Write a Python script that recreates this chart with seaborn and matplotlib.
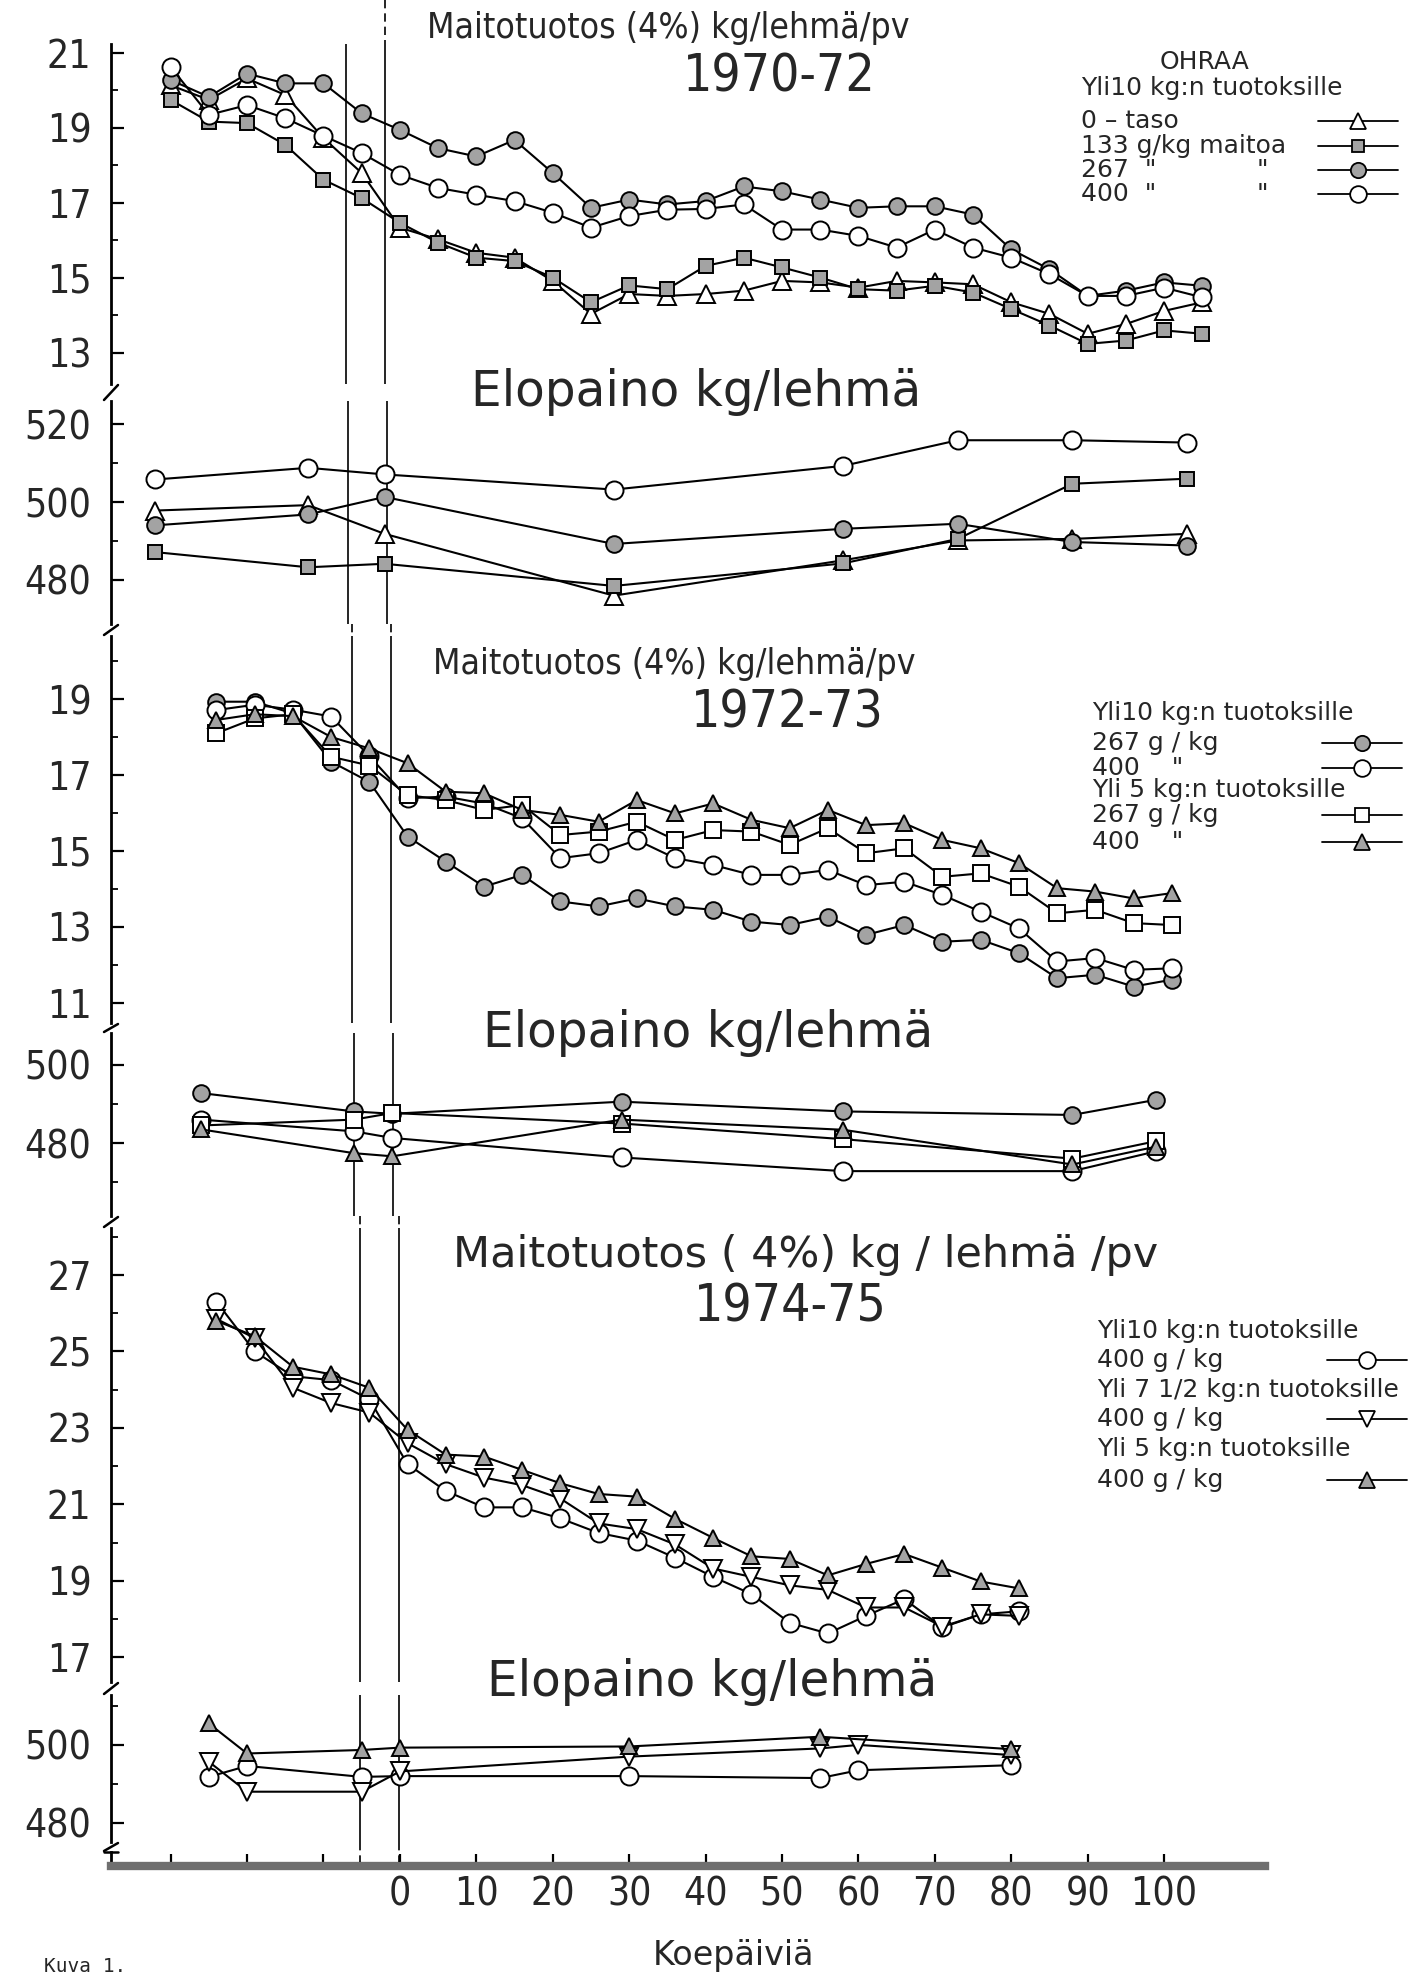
import matplotlib
matplotlib.use("Agg")
import matplotlib.pyplot as plt
import seaborn as sns
from matplotlib.lines import Line2D

# ---------------- data ----------------
days_7072 = [-30, -25, -20, -15, -10, -5, 0, 5, 10, 15, 20, 25, 30, 35, 40, 45, 50, 55,
             60, 65, 70, 75, 80, 85, 90, 95, 100, 105]
milk7072_0 = [20.14, 19.75, 20.32, 19.88, 18.73, 17.80, 16.34, 16.03, 15.67, 15.54, 14.92, 14.04,
              14.57, 14.52, 14.57, 14.66, 14.92, 14.88, 14.74, 14.92, 14.88, 14.83, 14.35, 14.04,
              13.51, 13.77, 14.12, 14.35]
milk7072_133 = [19.75, 19.17, 19.13, 18.55, 17.62, 17.13, 16.47, 15.94, 15.54, 15.45, 15.01, 14.35,
                14.80, 14.70, 15.32, 15.54, 15.28, 15.01, 14.70, 14.66, 14.79, 14.61, 14.17, 13.73,
                13.24, 13.33, 13.60, 13.51]
milk7072_267 = [20.28, 19.83, 20.45, 20.19, 20.19, 19.39, 18.95, 18.46, 18.24, 18.68, 17.80, 16.87,
                17.09, 16.96, 17.05, 17.44, 17.31, 17.09, 16.87, 16.91, 16.91, 16.69, 15.76, 15.23,
                14.52, 14.66, 14.88, 14.79]
milk7072_400 = [20.63, 19.35, 19.61, 19.26, 18.79, 18.33, 17.75, 17.40, 17.22, 17.05, 16.74, 16.34,
                16.65, 16.82, 16.84, 16.96, 16.29, 16.29, 16.12, 15.81, 16.29, 15.81, 15.54, 15.10,
                14.52, 14.52, 14.74, 14.48]

wdays_7072 = [-32, -12, -2, 28, 58, 73, 88, 103]
wt7072_0 = [497.8, 499.2, 491.8, 475.9, 485.0, 490.1, 490.5, 491.8]
wt7072_133 = [487.1, 483.2, 484.1, 478.4, 484.2, 490.5, 504.7, 506.0]
wt7072_267 = [494.0, 496.8, 501.3, 489.2, 493.1, 494.4, 489.7, 488.8]
wt7072_400 = [505.8, 508.8, 507.1, 503.2, 509.3, 515.9, 515.9, 515.3]

days_7273 = [-24, -19, -14, -9, -4, 1, 6, 11, 16, 21, 26, 31, 36, 41, 46, 51, 56, 61, 66, 71,
             76, 81, 86, 91, 96, 101]
milk7273_10_267 = [18.93, 18.93, 18.62, 17.35, 16.82, 15.38, 14.72, 14.06, 14.37, 13.67, 13.54, 13.75,
                   13.54, 13.45, 13.14, 13.05, 13.27, 12.79, 13.05, 12.61, 12.66, 12.31, 11.65, 11.74,
                   11.43, 11.61]
milk7273_10_400 = [18.71, 18.85, 18.72, 18.54, 17.50, 16.39, 16.43, 16.25, 15.86, 14.81, 14.94, 15.29,
                   14.81, 14.63, 14.37, 14.37, 14.50, 14.10, 14.19, 13.84, 13.40, 12.96, 12.09, 12.18,
                   11.87, 11.91]
milk7273_5_267 = [18.10, 18.49, 18.60, 17.48, 17.25, 16.47, 16.34, 16.08, 16.21, 15.42, 15.51, 15.77,
                  15.29, 15.55, 15.51, 15.16, 15.60, 14.94, 15.07, 14.32, 14.41, 14.06, 13.36, 13.45,
                  13.10, 13.05]
milk7273_5_400 = [18.45, 18.60, 18.55, 18.00, 17.70, 17.31, 16.56, 16.52, 16.08, 15.95, 15.77, 16.34,
                  15.99, 16.25, 15.82, 15.60, 16.08, 15.68, 15.73, 15.29, 15.07, 14.68, 14.02, 13.93,
                  13.75, 13.89]

wdays_7273 = [-26, -6, -1, 29, 58, 88, 99]
wt7273_10_267 = [492.8, 488.1, 487.5, 490.6, 488.1, 487.2, 491.1]
wt7273_10_400 = [486.0, 483.0, 481.3, 476.3, 472.8, 472.8, 477.9]
wt7273_5_267 = [484.5, 486.0, 487.7, 485.0, 481.0, 476.0, 480.5]
wt7273_5_400 = [483.5, 477.4, 476.6, 486.0, 483.4, 474.5, 479.1]

days_7475 = [-24, -19, -14, -9, -4, 1, 6, 11, 16, 21, 26, 31, 36, 41, 46, 51, 56, 61, 66, 71, 76, 81]
milk7475_10 = [26.30, 25.00, 24.35, 24.25, 23.75, 22.05, 21.35, 20.92, 20.92, 20.63, 20.25, 20.05,
               19.60, 19.10, 18.65, 17.90, 17.62, 18.08, 18.52, 17.78, 18.12, 18.20]
milk7475_75 = [25.85, 25.35, 24.05, 23.65, 23.40, 22.60, 22.05, 21.70, 21.50, 21.15, 20.50, 20.35,
               19.95, 19.32, 19.10, 18.88, 18.76, 18.30, 18.30, 17.80, 18.12, 18.08]
milk7475_5 = [25.80, 25.40, 24.60, 24.40, 24.05, 22.95, 22.30, 22.25, 21.90, 21.55, 21.27, 21.20,
              20.62, 20.12, 19.64, 19.57, 19.14, 19.44, 19.70, 19.34, 18.98, 18.80]

wdays_7475 = [-25, -20, -5, 0, 30, 55, 60, 80]
wt7475_10 = [491.8, 494.6, 491.8, 492.0, 492.0, 491.5, 493.5, 494.8]
wt7475_75 = [495.7, 488.0, 488.0, 493.2, 497.0, 499.1, 500.0, 497.4]
wdays_7475_5 = [-25, -20, -5, 0, 30, 55, 80]
wt7475_5 = [505.5, 497.8, 498.7, 499.3, 499.6, 502.1, 498.9]

xtick_values = [-30, -20, -10, 0, 10, 20, 30, 40, 50, 60, 70, 80, 90, 100]

# ---------------- style ----------------
sns.set_style("white")
plt.rcParams["font.family"] = ["DejaVu Sans"]

W, H = 1415, 1975
fig = plt.figure(figsize=(W / 100, H / 100), dpi=100)
LEFT, RIGHT = 111, 1265
XMIN, XMAX = -37.8, 113.2
GRAY = "#a3a3a3"


def rect(top, bottom):
    return [LEFT / W, 1 - bottom / H, (RIGHT - LEFT) / W, (bottom - top) / H]


def setup(ax, ylim, major, minor):
    ax.set_xlim(XMIN, XMAX)
    ax.set_ylim(*ylim)
    for s in ["top", "right", "bottom"]:
        ax.spines[s].set_visible(False)
    ax.spines["left"].set_linewidth(2.0)
    ax.spines["left"].set_color("black")
    ax.set_yticks(major)
    ax.set_yticks(minor, minor=True)
    ax.set_yticklabels([str(v) for v in major], fontstretch="condensed")
    ax.tick_params(axis="y", which="both", left=True, color="black")
    ax.tick_params(axis="y", which="major", direction="in", length=9, width=1.6,
                   pad=14, labelsize=28)
    ax.tick_params(axis="y", which="minor", direction="in", length=5, width=1.3)
    ax.tick_params(axis="x", bottom=False, labelbottom=False)
    ax.patch.set_alpha(0)
    ax.set_xlabel("")
    ax.set_ylabel("")


def series(ax, x, y, marker, fill, ms):
    sns.lineplot(x=x, y=y, ax=ax, color="black", linewidth=1.5, marker=marker,
                 markersize=ms, markerfacecolor=fill, markeredgecolor="black",
                 markeredgewidth=1.4, legend=False, errorbar=None, estimator=None)


panels = [
    (44, 384, (12.17, 21.24), [13, 15, 17, 19, 21], [14, 16, 18, 20], (-7.1, -2.0)),
    (401, 624, (468.6, 526.0), [480, 500, 520], [490, 510], (-6.8, -1.7)),
    (636, 1023, (10.47, 20.66), [11, 13, 15, 17, 19], [12, 14, 16, 18, 20], (-6.3, -1.2)),
    (1033, 1216, (461.3, 508.2), [480, 500], [470, 490], (-6.0, -0.9)),
    (1228, 1682, (16.35, 28.23), [17, 19, 21, 23, 25, 27], [18, 20, 22, 24, 26, 28], (-5.2, -0.1)),
    (1695, 1842, (475.1, 512.8), [480, 500], [490, 510], (-5.2, -0.1)),
]
axes = []
for top, bot, ylim, major, minor, vl in panels:
    ax = fig.add_axes(rect(top, bot))
    setup(ax, ylim, major, minor)
    for v in vl:
        ax.axvline(v, color="black", lw=1.2, zorder=1)
    axes.append(ax)

a1, a2, a3, a4, a5, a6 = axes
MC, MT, MS = 13, 13, 10

# panel 1: milk 1970-72
series(a1, days_7072, milk7072_0, "^", "white", MT)
series(a1, days_7072, milk7072_133, "s", GRAY, MS)
series(a1, days_7072, milk7072_267, "o", GRAY, 12)
series(a1, days_7072, milk7072_400, "o", "white", MC)
# panel 2: weight 1970-72
series(a2, wdays_7072, wt7072_0, "^", "white", MT)
series(a2, wdays_7072, wt7072_133, "s", GRAY, MS)
series(a2, wdays_7072, wt7072_267, "o", GRAY, 12)
series(a2, wdays_7072, wt7072_400, "o", "white", MC)
# panel 3: milk 1972-73
series(a3, days_7273, milk7273_10_267, "o", GRAY, 12)
series(a3, days_7273, milk7273_10_400, "o", "white", MC)
series(a3, days_7273, milk7273_5_267, "s", "white", 11)
series(a3, days_7273, milk7273_5_400, "^", GRAY, 12)
# panel 4: weight 1972-73
series(a4, wdays_7273, wt7273_10_267, "o", GRAY, 12)
series(a4, wdays_7273, wt7273_10_400, "o", "white", MC)
series(a4, wdays_7273, wt7273_5_267, "s", "white", 11)
series(a4, wdays_7273, wt7273_5_400, "^", GRAY, 12)
# panel 5: milk 1974-75
series(a5, days_7475, milk7475_10, "o", "white", MC)
series(a5, days_7475, milk7475_75, "v", "white", MT)
series(a5, days_7475, milk7475_5, "^", GRAY, 12)
# panel 6: weight 1974-75
series(a6, wdays_7475, wt7475_10, "o", "white", MC)
series(a6, wdays_7475, wt7475_75, "v", "white", MT)
series(a6, wdays_7475_5, wt7475_5, "^", GRAY, 12)

# x axis
axx = fig.add_axes(rect(1852, 1866))
axx.set_xlim(XMIN, XMAX)
axx.set_ylim(0, 1)
for s in ["top", "right"]:
    axx.spines[s].set_visible(False)
axx.spines["bottom"].set_linewidth(6)
axx.spines["bottom"].set_color("#6f6f6f")
axx.spines["left"].set_linewidth(2.0)
axx.spines["left"].set_color("black")
axx.set_yticks([])
axx.set_xticks(xtick_values)
axx.set_xticklabels([str(v) if v >= 0 else "" for v in xtick_values], fontstretch="condensed")
axx.tick_params(axis="x", bottom=True, direction="in", length=9, width=1.6,
                color="black", labelsize=28, pad=7)
axx.patch.set_alpha(0)

# continuation of the two vertical lines in the gaps
trf = fig.transFigure.inverted()


def fig_x(ax, d):
    return trf.transform(ax.transData.transform((d, ax.get_ylim()[0])))[0]


gap_segments = [(0, 0, 44, [1]), (2, 624, 636, [0, 1]), (4, 1216, 1228, [0, 1]),
                (5, 1842, 1862, [0, 1])]
for lower_idx, y0, y1, which in gap_segments:
    for k in which:
        xf = fig_x(axes[lower_idx], panels[lower_idx][5][k])
        fig.add_artist(Line2D([xf, xf], [1 - y0 / H, 1 - y1 / H], color="black",
                              lw=1.2, ls=(0, (5, 3))))

# axis break marks
for y_up, y_lo in [(384, 401), (624, 636), (1023, 1033), (1216, 1228), (1682, 1695), (1842, 1852)]:
    fig.add_artist(Line2D([(LEFT - 7) / W, (LEFT + 7) / W],
                          [1 - (y_lo - 1) / H, 1 - (y_up + 1) / H], color="black", lw=1.8))
fig.add_artist(Line2D([(LEFT - 7) / W, (LEFT + 7) / W], [1 - 1852 / H] * 2, color="black", lw=1.8))


# titles
def ftext(x, y, s, size, ha="center", **kw):
    fig.text(x / W, 1 - y / H, s, ha=ha, va="center", fontsize=size, **kw)


ftext(668, 28, "Maitotuotos (4%) kg/lehmä/pv", 25.5, fontstretch="condensed")
ftext(779, 78, "1970-72", 37, fontstretch="condensed")
ftext(696, 392, "Elopaino kg/lehmä", 35)
ftext(674, 664, "Maitotuotos (4%) kg/lehmä/pv", 25.5, fontstretch="condensed")
ftext(787, 713, "1972-73", 37, fontstretch="condensed")
ftext(708, 1033, "Elopaino kg/lehmä", 35)
ftext(806, 1255, "Maitotuotos ( 4%) kg / lehmä /pv", 31)
ftext(790, 1307, "1974-75", 37, fontstretch="condensed")
ftext(712, 1682, "Elopaino kg/lehmä", 35)
ftext(734, 1956, "Koepäiviä", 24)
ftext(44, 1966, "Kuva 1.", 14, ha="left", family="DejaVu Sans Mono")


# legends
def legend_entry(xc, y, marker, fill, ms, half=40):
    fig.add_artist(Line2D([(xc - half) / W, (xc + half) / W], [1 - y / H] * 2,
                          color="black", lw=1.3))
    fig.add_artist(Line2D([xc / W], [1 - y / H], marker=marker, ms=ms, mfc=fill,
                          mec="black", mew=1.3, ls="none"))


LS = 18
ftext(1205, 62, "OHRAA", LS)
ftext(1081, 88, "Yli10 kg:n tuotoksille", LS, ha="left")
ftext(1081, 121, "0 – taso", LS, ha="left")
ftext(1081, 146, "133 g/kg maitoa", LS, ha="left")
ftext(1081, 170, "267  \"", LS, ha="left")
ftext(1262, 170, "\"", LS)
ftext(1081, 194, "400  \"", LS, ha="left")
ftext(1262, 194, "\"", LS)
legend_entry(1358, 121, "^", "white", 12)
legend_entry(1358, 146, "s", GRAY, 9)
legend_entry(1358, 170, "o", GRAY, 11)
legend_entry(1358, 194, "o", "white", 12)

ftext(1092, 713, "Yli10 kg:n tuotoksille", LS, ha="left")
ftext(1092, 743, "267 g / kg", LS, ha="left")
ftext(1092, 768, "400    \"", LS, ha="left")
ftext(1092, 790, "Yli 5 kg:n tuotoksille", LS, ha="left")
ftext(1092, 815, "267 g / kg", LS, ha="left")
ftext(1092, 842, "400    \"", LS, ha="left")
legend_entry(1362, 743, "o", GRAY, 11)
legend_entry(1362, 768, "o", "white", 12)
legend_entry(1362, 815, "s", "white", 10)
legend_entry(1362, 842, "^", GRAY, 11)

ftext(1097, 1331, "Yli10 kg:n tuotoksille", LS, ha="left")
ftext(1097, 1360, "400 g / kg", LS, ha="left")
ftext(1097, 1390, "Yli 7 1/2 kg:n tuotoksille", LS, ha="left")
ftext(1097, 1419, "400 g / kg", LS, ha="left")
ftext(1097, 1449, "Yli 5 kg:n tuotoksille", LS, ha="left")
ftext(1097, 1480, "400 g / kg", LS, ha="left")
legend_entry(1367, 1360, "o", "white", 12)
legend_entry(1367, 1419, "v", "white", 12)
legend_entry(1367, 1480, "^", GRAY, 11)

fig.savefig("out.png", dpi=100, facecolor="white")
